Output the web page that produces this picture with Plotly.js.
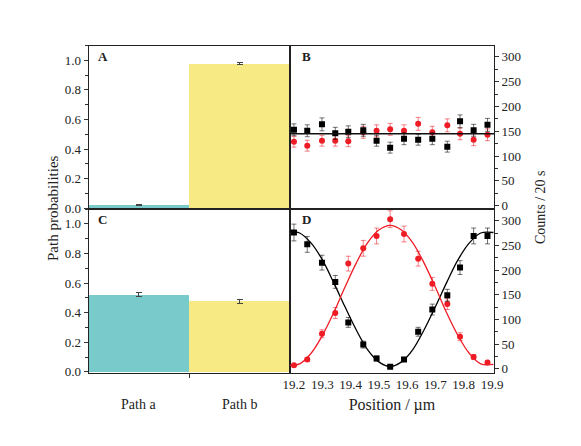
<!DOCTYPE html>
<html>
<head>
<meta charset="utf-8">
<script src="https://cdn.plot.ly/plotly-3.0.1.min.js"></script>
<style>html,body{margin:0;padding:0;background:#fff;}#plot{width:581px;height:446px;}</style>
</head>
<body>
<div id="plot"></div>
<script>
// ---- Data ----
const categories = ["Path a", "Path b"];
const probA = [0.022, 0.978];
const probAErr = [0.004, 0.004];
const probC = [0.521, 0.476];
const probCErr = [0.015, 0.015];

const positions = [19.2, 19.247, 19.299, 19.346, 19.392, 19.445, 19.492, 19.540, 19.589, 19.639, 19.689, 19.742, 19.787, 19.835, 19.884];

const countsB_black = [153, 151, 164, 146, 149, 152, 131, 117, 135, 133, 135, 119, 170, 152, 163];
const countsB_blackErr = [12, 12, 13, 12, 12, 12, 11, 11, 12, 11, 12, 11, 13, 12, 13];
const countsB_red = [129, 121, 131, 131, 130, 148, 151, 154, 151, 165, 148, 162, 145, 133, 143];
const countsB_redErr = [11, 11, 11, 11, 11, 12, 12, 12, 12, 13, 12, 13, 12, 12, 12];
const fitB = 145;

const countsD_black = [276, 252, 215, 176, 94, 49, 21, 4, 19, 75, 120, 149, 205, 269, 269];
const countsD_blackErr = [17, 16, 15, 13, 10, 7, 5, 2, 4, 9, 11, 12, 14, 16, 16];
const countsD_red = [7, 19, 71, 113, 213, 244, 269, 303, 273, 223, 172, 131, 65, 24, 13];
const countsD_redErr = [3, 4, 8, 11, 15, 16, 16, 17, 16, 15, 13, 11, 8, 5, 4];

const fitX = [19.185, 19.22, 19.26, 19.30, 19.34, 19.38, 19.42, 19.46, 19.50, 19.54, 19.58, 19.62, 19.66, 19.70, 19.74, 19.78, 19.82, 19.86, 19.905];
const fitD_black = [278, 275, 255, 221, 175, 126, 79, 39, 14, 4.5, 14, 39, 79, 126, 175, 221, 255, 275, 276];
const fitD_red = [7, 10, 31, 67, 113, 165, 214, 255, 281, 290.5, 281, 255, 214, 165, 113, 67, 31, 10, 9];

const yTicksRight = [0, 50, 100, 150, 200, 250, 300];
const xTicksD = [19.2, 19.3, 19.4, 19.5, 19.6, 19.7, 19.8, 19.9];

// ---- Styles ----
const FONT = "'Liberation Serif', 'Times New Roman', Times, serif";
const teal = "#78CBCA";
const yellow = "#F7EA84";
const blk = "#000000";
const red = "#EE1C25";

const traces = [
  {type: "bar", x: [0, 1], y: probA, xaxis: "x", yaxis: "y",
   marker: {color: [teal, yellow], line: {width: 0}},
   error_y: {type: "data", array: probAErr, visible: true, color: "#444", thickness: 1, width: 3},
   hoverinfo: "none"},
  {type: "bar", x: [0, 1], y: probC, xaxis: "x2", yaxis: "y2",
   marker: {color: [teal, yellow], line: {width: 0}},
   error_y: {type: "data", array: probCErr, visible: true, color: "#444", thickness: 1, width: 3},
   hoverinfo: "none"},
  {type: "scatter", mode: "markers", x: positions, y: countsB_red, xaxis: "x3", yaxis: "y3",
   marker: {symbol: "circle", size: 6, color: red},
   error_y: {type: "data", array: countsB_redErr, visible: true, color: "rgba(238,28,37,0.55)", thickness: 1, width: 2.5}},
  {type: "scatter", mode: "markers", x: positions, y: countsB_black, xaxis: "x3", yaxis: "y3",
   marker: {symbol: "square", size: 6, color: blk},
   error_y: {type: "data", array: countsB_blackErr, visible: true, color: "rgba(0,0,0,0.55)", thickness: 1, width: 2.5}},
  {type: "scatter", mode: "lines", x: fitX, y: fitD_black, xaxis: "x4", yaxis: "y4",
   line: {color: blk, width: 1.3, shape: "spline"}},
  {type: "scatter", mode: "lines", x: fitX, y: fitD_red, xaxis: "x4", yaxis: "y4",
   line: {color: red, width: 1.3, shape: "spline"}},
  {type: "scatter", mode: "markers", x: positions, y: countsD_red, xaxis: "x4", yaxis: "y4",
   marker: {symbol: "circle", size: 6, color: red},
   error_y: {type: "data", array: countsD_redErr, visible: true, color: "rgba(238,28,37,0.55)", thickness: 1, width: 2.5}},
  {type: "scatter", mode: "markers", x: positions, y: countsD_black, xaxis: "x4", yaxis: "y4",
   marker: {symbol: "square", size: 6, color: blk},
   error_y: {type: "data", array: countsD_blackErr, visible: true, color: "rgba(0,0,0,0.55)", thickness: 1, width: 2.5}}
];

const xL = [88.5 / 581, 290 / 581];
const xR = [290 / 581, 494 / 581];
const yT = [1 - 209 / 446, 1 - 45.5 / 446];
const yB = [1 - 372.5 / 446, 1 - 209 / 446];
const xRange = [19.186, 19.907];

const tickFont = {family: FONT, size: 13, color: "#222"};
const fnt = (s) => ({family: FONT, size: s, color: "#222"});
const frame = {showline: true, linecolor: "#222", linewidth: 1, mirror: true, showgrid: false, zeroline: false};

const leftY = (dom, anchor) => Object.assign({}, frame, {
  domain: dom, anchor: anchor, range: [-0.004, 1.1], tickvals: [0, 0.2, 0.4, 0.6, 0.8, 1.0],
  tickformat: ".1f", ticks: "outside", ticklen: 4, tickcolor: "#333", tickfont: tickFont,
  minor: {dtick: 0.1, tick0: 0, ticks: "outside", ticklen: 3, tickcolor: "#333"}
});
const rightY = (dom, anchor, r) => Object.assign({}, frame, {
  domain: dom, anchor: anchor, side: "right", range: r, tickvals: yTicksRight,
  ticks: "outside", ticklen: 4, tickcolor: "#333", tickfont: tickFont,
  minor: {dtick: 25, tick0: 0, ticks: "outside", ticklen: 2.5, tickcolor: "#333"}
});

const ann = (o) => Object.assign({showarrow: false, xanchor: "center", yanchor: "middle", font: fnt(14)}, o);

const layout = {
  width: 581, height: 446,
  margin: {l: 0, r: 0, t: 0, b: 0},
  paper_bgcolor: "#fff", plot_bgcolor: "rgba(0,0,0,0)",
  showlegend: false, bargap: 0,
  font: {family: FONT, color: "#222"},
  xaxis: Object.assign({}, frame, {domain: xL, anchor: "y", range: [-0.5, 1.5], showticklabels: false, ticks: ""}),
  yaxis: leftY(yT, "x"),
  xaxis2: Object.assign({}, frame, {domain: xL, anchor: "y2", range: [-0.5, 1.5], tickvals: [0.5], showticklabels: false, ticks: "outside", ticklen: 4, tickcolor: "#333"}),
  yaxis2: leftY(yB, "x2"),
  xaxis3: Object.assign({}, frame, {domain: xR, anchor: "y3", range: xRange, showticklabels: false, ticks: ""}),
  yaxis3: rightY(yT, "x3", [-6.7, 323]),
  xaxis4: Object.assign({}, frame, {domain: xR, anchor: "y4", range: xRange, tickvals: xTicksD, tickformat: ".1f", ticks: "", tickfont: tickFont,
    title: {text: "Position / µm", font: fnt(16), standoff: 7}}),
  yaxis4: rightY(yB, "x4", [-7.5, 323.6]),
  shapes: [
    {type: "line", xref: "x3 domain", yref: "y3", x0: 0, x1: 1, y0: fitB, y1: fitB, line: {color: "#111", width: 1.5}}
  ],
  annotations: [
    ann({text: "<b>A</b>", xref: "x domain", yref: "y domain", x: 0.07, y: 0.935, font: fnt(13)}),
    ann({text: "<b>B</b>", xref: "x3 domain", yref: "y3 domain", x: 0.082, y: 0.935, font: fnt(13)}),
    ann({text: "<b>C</b>", xref: "x2 domain", yref: "y2 domain", x: 0.07, y: 0.935, font: fnt(13)}),
    ann({text: "<b>D</b>", xref: "x4 domain", yref: "y4 domain", x: 0.082, y: 0.935, font: fnt(13)}),
    ann({text: categories[0], xref: "x2", yref: "paper", x: 0, y: 1 - 404 / 446}),
    ann({text: categories[1], xref: "x2", yref: "paper", x: 1, y: 1 - 404 / 446}),
    ann({text: "Path probabilities", xref: "paper", yref: "paper", x: 53 / 581, y: 1 - 208 / 446, textangle: -90, font: fnt(15)}),
    ann({text: "Counts / 20 s", xref: "paper", yref: "paper", x: 540 / 581, y: 1 - 207 / 446, textangle: -90, font: fnt(14)})
  ]
};

Plotly.newPlot("plot", traces, layout, {staticPlot: true, displayModeBar: false});
</script>
</body>
</html>
